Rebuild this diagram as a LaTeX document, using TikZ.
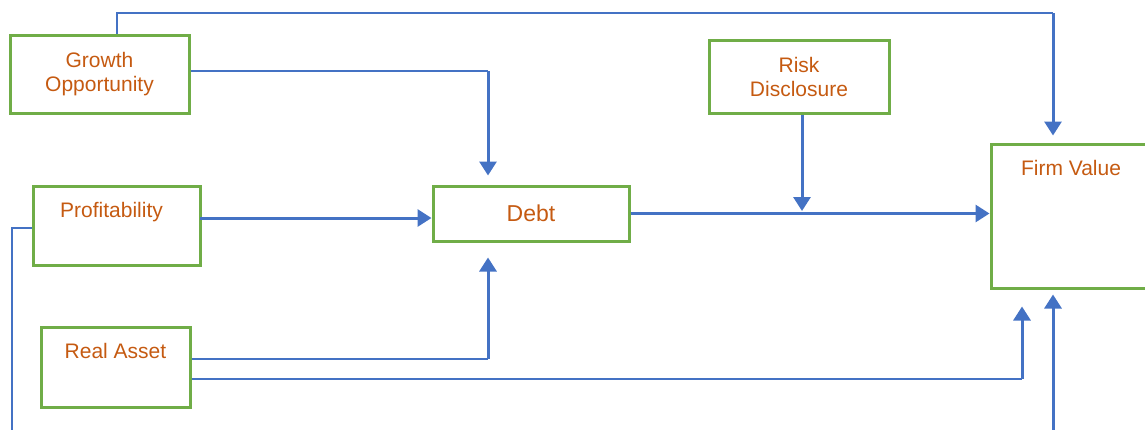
\documentclass[tikz,border=0pt]{standalone}
\usepackage{fontspec}
\setmainfont{Liberation Sans}
\usepackage{tikz}
\usepackage{xcolor}
\usetikzlibrary{arrows.meta}
\usetikzlibrary{positioning}

\definecolor{boxgreen}{HTML}{70AD47}
\definecolor{linkblue}{HTML}{4472C4}
\definecolor{labelorange}{HTML}{C55A11}

\begin{document}
\begin{tikzpicture}[x=0.5pt,y=-0.5pt,
		blk/.style={draw=boxgreen,line width=1.5pt,inner sep=0pt},
		txt/.style={text=labelorange,font=\fontsize{10.5}{12}\selectfont,align=center,inner sep=0pt},
		feed/.style={draw=linkblue,line width=0.75pt},
		arr/.style={draw=linkblue,line width=1.5pt,-{Triangle[length=7pt,width=8.5pt]}}]
			\useasboundingbox (0,0) rectangle (1145,429);

			% boxes
			\node[blk,txt,minimum width=89.5pt,minimum height=39pt] (grow) at (99.5,74) {Growth\\Opportunity};
			\node[blk,txt,minimum width=90pt,minimum height=36.5pt] (risk) at (799,76.5) {Risk\\Disclosure};
			\node[blk,minimum width=83.5pt,minimum height=39.5pt] (prof) at (116.5,225.5) {};
			\node[blk,minimum width=74.5pt,minimum height=40pt] (real) at (115.5,367) {};
			\node[blk,txt,font=\fontsize{11.5}{13}\selectfont,minimum width=98pt,minimum height=27.5pt] (debt) at (531,213.5) {Debt};
			\node[blk,minimum width=80pt,minimum height=72pt] (fv) at (1071,216) {};

			% titles sitting at the top of the boxes
			\node[txt,below=8.5pt of prof.north,xshift=-2.5pt] (proftitle) {Profitability};
			\node[txt,below=8.5pt of real.north] (realtitle) {Real Asset};
			\node[txt,below=8.5pt of fv.north] (fvtitle) {Firm Value};

			% bends of the connectors
			\coordinate (topleft) at (117,13);
			\coordinate (topright) at (1053,13);
			\coordinate (growbend) at (488,71);
			\coordinate (profout) at (200,218);
			\coordinate (profloop) at (12,228);
			\coordinate (loopdown) at (12,450);
			\coordinate (loopright) at (1053,450);
			\coordinate (realdebt) at (488,359);
			\coordinate (realfirm) at (1022,379);
			\coordinate (riskin) at (802,211);

			\draw[feed] (grow.north -| topleft) -- (topleft) -- (topright);
			\draw[arr,shorten >=3.5pt] (topright) -- (fv.north -| topright);

			\draw[feed] (grow.east |- growbend) -- (growbend);
			\draw[arr,shorten >=4.5pt] (growbend) -- (debt.north -| growbend);

			\draw[arr] (profout) -- (debt.west |- profout);

			\draw[feed] (prof.west |- profloop) -- (profloop) -- (loopdown) -- (loopright);
			\draw[arr,shorten >=2.5pt] (loopright) -- (fv.south -| loopright);

			\draw[feed] (real.east |- realdebt) -- (realdebt);
			\draw[arr,shorten >=7.5pt] (realdebt) -- (debt.south -| realdebt);

			\draw[feed] (real.east |- realfirm) -- (realfirm);
			\draw[arr,shorten >=8.5pt] (realfirm) -- (fv.south -| realfirm);

			\draw[arr] (debt.east) -- (fv.west |- debt.east);
			\draw[arr] (risk.south -| riskin) -- (riskin);
		\end{tikzpicture}
\end{document}
